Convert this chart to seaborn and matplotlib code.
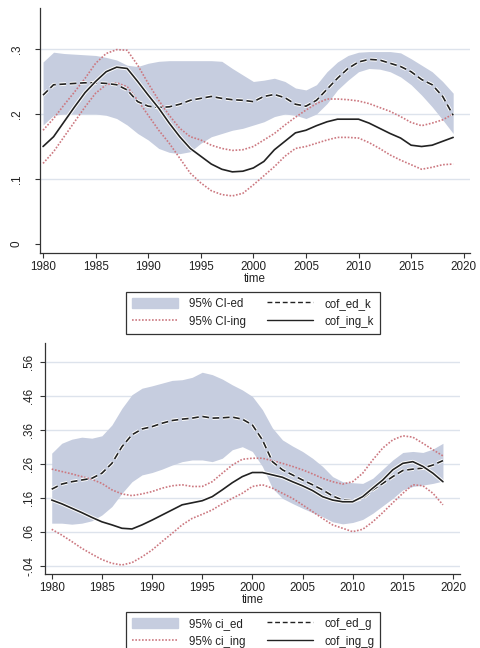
import numpy as np
import pandas as pd
import matplotlib
matplotlib.use("Agg")
import matplotlib.pyplot as plt
import seaborn as sns
from matplotlib.patches import Patch
from matplotlib.lines import Line2D
import matplotlib.patheffects as pe

years = list(range(1980, 2020))

# ---------- top panel (k) ----------
cof_ed_k = [0.229, 0.245, 0.246, 0.247, 0.248, 0.248, 0.247, 0.245, 0.237, 0.219,
            0.212, 0.210, 0.211, 0.215, 0.221, 0.224, 0.227, 0.224, 0.222, 0.221,
            0.219, 0.227, 0.230, 0.225, 0.215, 0.212, 0.221, 0.238, 0.255, 0.270,
            0.280, 0.284, 0.283, 0.278, 0.273, 0.265, 0.253, 0.245, 0.227, 0.198]
cof_ing_k = [0.150, 0.165, 0.188, 0.211, 0.233, 0.250, 0.265, 0.272, 0.270, 0.250,
             0.229, 0.209, 0.186, 0.165, 0.147, 0.135, 0.123, 0.115, 0.111, 0.112,
             0.117, 0.127, 0.145, 0.158, 0.171, 0.175, 0.182, 0.188, 0.192, 0.192,
             0.192, 0.186, 0.178, 0.170, 0.163, 0.152, 0.150, 0.152, 0.158, 0.164]
ci_ed_k_hi = [0.280, 0.295, 0.293, 0.292, 0.291, 0.290, 0.287, 0.283, 0.275, 0.273,
              0.278, 0.281, 0.282, 0.282, 0.282, 0.282, 0.282, 0.281, 0.270, 0.260,
              0.250, 0.252, 0.255, 0.250, 0.240, 0.237, 0.245, 0.265, 0.280, 0.290,
              0.295, 0.296, 0.296, 0.296, 0.294, 0.285, 0.275, 0.265, 0.250, 0.232]
ci_ed_k_lo = [0.183, 0.198, 0.200, 0.200, 0.200, 0.200, 0.198, 0.193, 0.183, 0.170,
              0.160, 0.147, 0.141, 0.139, 0.142, 0.155, 0.165, 0.170, 0.175, 0.178,
              0.183, 0.188, 0.196, 0.200, 0.198, 0.193, 0.200, 0.216, 0.237, 0.252,
              0.265, 0.270, 0.269, 0.265, 0.257, 0.245, 0.229, 0.211, 0.191, 0.170]
ci_ing_k_hi = [0.175, 0.193, 0.214, 0.234, 0.255, 0.278, 0.293, 0.299, 0.298, 0.275,
               0.247, 0.221, 0.198, 0.178, 0.165, 0.160, 0.152, 0.147, 0.144, 0.145,
               0.150, 0.160, 0.170, 0.183, 0.195, 0.206, 0.216, 0.223, 0.223, 0.222,
               0.220, 0.216, 0.210, 0.204, 0.196, 0.187, 0.182, 0.186, 0.191, 0.200]
ci_ing_k_lo = [0.124, 0.142, 0.165, 0.188, 0.211, 0.232, 0.245, 0.248, 0.242, 0.221,
               0.198, 0.175, 0.155, 0.132, 0.109, 0.094, 0.082, 0.076, 0.074, 0.078,
               0.091, 0.105, 0.119, 0.135, 0.147, 0.150, 0.155, 0.160, 0.164, 0.164,
               0.163, 0.156, 0.147, 0.137, 0.129, 0.122, 0.115, 0.118, 0.122, 0.123]

# ---------- bottom panel (g) ----------
cof_ed_g = [0.186, 0.201, 0.208, 0.213, 0.218, 0.233, 0.262, 0.311, 0.346, 0.363,
            0.370, 0.380, 0.388, 0.392, 0.395, 0.400, 0.395, 0.396, 0.398, 0.392,
            0.375, 0.331, 0.267, 0.243, 0.228, 0.213, 0.199, 0.184, 0.166, 0.154,
            0.152, 0.159, 0.184, 0.203, 0.223, 0.241, 0.245, 0.248, 0.257, 0.270]
cof_ing_g = [0.154, 0.143, 0.130, 0.117, 0.103, 0.090, 0.081, 0.071, 0.069, 0.081,
             0.095, 0.110, 0.125, 0.140, 0.146, 0.152, 0.164, 0.184, 0.205, 0.223,
             0.235, 0.235, 0.228, 0.221, 0.208, 0.196, 0.182, 0.164, 0.154, 0.149,
             0.149, 0.164, 0.189, 0.213, 0.243, 0.262, 0.267, 0.253, 0.233, 0.208]
ci_ed_g_hi = [0.292, 0.321, 0.333, 0.339, 0.336, 0.343, 0.375, 0.424, 0.464, 0.483,
              0.490, 0.498, 0.506, 0.508, 0.515, 0.530, 0.523, 0.510, 0.493, 0.478,
              0.459, 0.420, 0.366, 0.331, 0.313, 0.297, 0.277, 0.253, 0.223, 0.208,
              0.205, 0.203, 0.218, 0.245, 0.272, 0.294, 0.297, 0.294, 0.304, 0.321]
ci_ed_g_lo = [0.086, 0.086, 0.083, 0.086, 0.093, 0.110, 0.135, 0.174, 0.208, 0.228,
              0.235, 0.245, 0.257, 0.267, 0.272, 0.272, 0.267, 0.277, 0.302, 0.311,
              0.297, 0.253, 0.189, 0.159, 0.144, 0.130, 0.117, 0.105, 0.090, 0.084,
              0.088, 0.097, 0.115, 0.137, 0.159, 0.184, 0.194, 0.198, 0.203, 0.210]
ci_ing_g_hi = [0.245, 0.238, 0.231, 0.223, 0.215, 0.203, 0.184, 0.172, 0.167, 0.172,
               0.179, 0.189, 0.196, 0.199, 0.194, 0.194, 0.208, 0.233, 0.257, 0.274,
               0.277, 0.277, 0.270, 0.262, 0.253, 0.243, 0.231, 0.218, 0.208, 0.201,
               0.208, 0.233, 0.272, 0.307, 0.331, 0.343, 0.339, 0.321, 0.302, 0.284]
ci_ing_g_lo = [0.068, 0.051, 0.032, 0.012, -0.005, -0.021, -0.032, -0.037, -0.030, -0.013,
               0.007, 0.032, 0.056, 0.081, 0.100, 0.112, 0.125, 0.143, 0.159, 0.174,
               0.194, 0.199, 0.189, 0.174, 0.159, 0.140, 0.120, 0.100, 0.081, 0.071,
               0.061, 0.068, 0.090, 0.117, 0.146, 0.174, 0.199, 0.196, 0.174, 0.140]

x_ticks = [1980, 1985, 1990, 1995, 2000, 2005, 2010, 2015, 2020]
top_yticks = [0.0, 0.1, 0.2, 0.3]
top_ylabels = ["0", ".1", ".2", ".3"]
bot_yticks = [-0.04, 0.06, 0.16, 0.26, 0.36, 0.46, 0.56]
bot_ylabels = ["-.04", ".06", ".16", ".26", ".36", ".46", ".56"]
top_legend = ["95% CI-ed", "95% CI-ing", "cof_ed_k", "cof_ing_k"]
bot_legend = ["95% ci_ed", "95% ci_ing", "cof_ed_g", "cof_ing_g"]

sns.set_theme(style="white")
plt.rcParams["font.family"] = ["Liberation Sans", "DejaVu Sans"]

BAND = "#c6cddf"
RED = "#cc7880"
GRID = "#dde3ec"
FS = 8.4
LFS = 8.3

fig = plt.figure(figsize=(4.8, 6.48), dpi=100)
ax1 = fig.add_axes([40/480, 1-253/648, 430/480, 245/648])
ax2 = fig.add_axes([45/480, 1-574/648, 415/480, 231/648])

halo = [pe.Stroke(linewidth=2.6, foreground="white"), pe.Normal()]


def draw(ax, ed, ing, ed_hi, ed_lo, ing_hi, ing_lo):
    df = pd.DataFrame({"year": years, "ed": ed, "ing": ing,
                       "ed_hi": ed_hi, "ed_lo": ed_lo,
                       "ing_hi": ing_hi, "ing_lo": ing_lo})
    ax.fill_between(df["year"], df["ed_lo"], df["ed_hi"], color=BAND, lw=0, zorder=2)
    for col in ["ing_hi", "ing_lo"]:
        sns.lineplot(data=df, x="year", y=col, ax=ax, color=RED, lw=1.2,
                     linestyle=(0, (1, 1)), zorder=3)
    l1 = sns.lineplot(data=df, x="year", y="ed", ax=ax, color="#222222", lw=1.2, zorder=4)
    l1.lines[-1].set_dashes([4, 2.2])
    l1.lines[-1].set_path_effects(halo)
    sns.lineplot(data=df, x="year", y="ing", ax=ax, color="#222222", lw=1.2, zorder=4)
    ax.lines[-1].set_path_effects(halo)


draw(ax1, cof_ed_k, cof_ing_k, ci_ed_k_hi, ci_ed_k_lo, ci_ing_k_hi, ci_ing_k_lo)
draw(ax2, cof_ed_g, cof_ing_g, ci_ed_g_hi, ci_ed_g_lo, ci_ing_g_hi, ci_ing_g_lo)


def style(ax, xlim, ylim, yticks, ylabels, grid_vals, ypad):
    ax.set_xlim(*xlim)
    ax.set_ylim(*ylim)
    ax.set_xticks(x_ticks)
    ax.set_xticklabels([str(t) for t in x_ticks], fontsize=FS)
    ax.set_yticks(yticks)
    ax.set_yticklabels(ylabels, fontsize=FS, rotation=90, va="center")
    for s in ["top", "right"]:
        ax.spines[s].set_visible(False)
    for s in ["left", "bottom"]:
        ax.spines[s].set_color("#333333")
        ax.spines[s].set_linewidth(0.9)
    ax.tick_params(axis="x", direction="out", length=3.5, width=0.8, color="#333333",
                   pad=2.5, labelcolor="#222222", bottom=True)
    ax.tick_params(axis="y", direction="out", length=3.5, width=0.8, color="#333333",
                   pad=ypad, labelcolor="#222222", left=True)
    ax.set_xlabel("time", fontsize=FS, labelpad=0, color="#222222")
    ax.set_ylabel("")
    for g in grid_vals:
        ax.axhline(g, color=GRID, lw=1.0, zorder=1)
    ax.set_facecolor("white")


style(ax1, (1979.71, 2020.6), (-0.0138, 0.363), top_yticks, top_ylabels,
      [0.1, 0.2, 0.3], 9)
style(ax2, (1979.33, 2020.7), (-0.0635, 0.616), bot_yticks, bot_ylabels,
      bot_yticks, 3.5)


def legend(labels, ytop):
    handles = [Patch(facecolor=BAND, edgecolor=BAND),
               Line2D([], [], color=RED, lw=1.2, linestyle=(0, (1, 1))),
               Line2D([], [], color="#222222", lw=1.0, dashes=[3.5, 2]),
               Line2D([], [], color="#222222", lw=1.0)]
    leg = fig.legend(handles, labels, loc="upper center", bbox_to_anchor=(0.527, ytop),
                     ncol=2, fontsize=LFS, frameon=True, fancybox=False,
                     edgecolor="#333333", framealpha=1, handlelength=4.0,
                     handleheight=1.0, handletextpad=1.0, columnspacing=1.8,
                     labelspacing=0.5, borderpad=0.5, borderaxespad=0)
    leg.get_frame().set_linewidth(0.9)
    for t in leg.get_texts():
        t.set_color("#222222")


legend(top_legend, 1 - 292/648)
legend(bot_legend, 1 - 612/648)

fig.savefig("out.png", dpi=100, facecolor="white")
